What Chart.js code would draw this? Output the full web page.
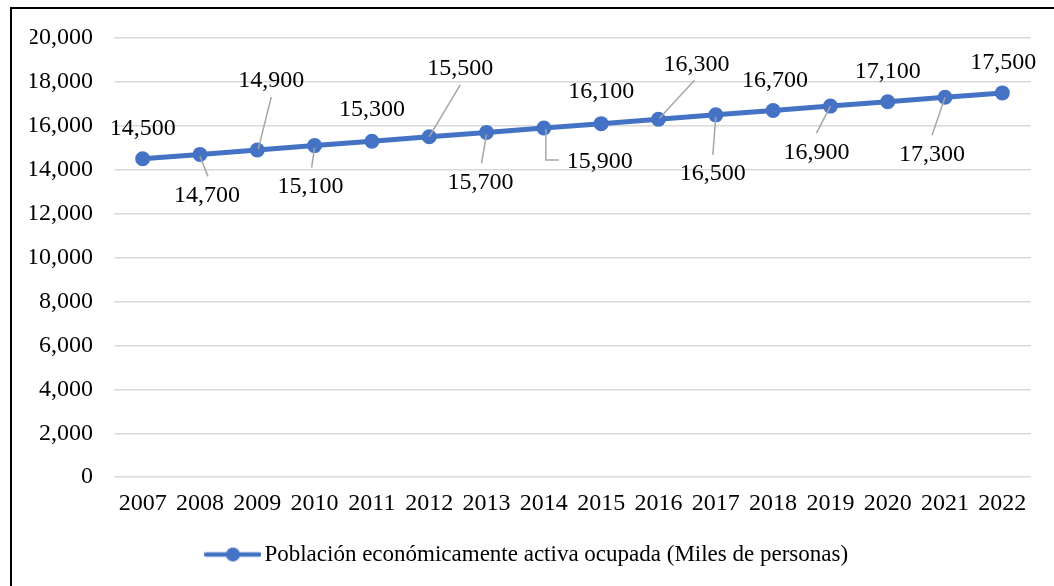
<!DOCTYPE html>
<html><head><meta charset="utf-8">
<script src="https://cdn.jsdelivr.net/npm/chart.js@4/dist/chart.umd.min.js"></script>
<style>
html,body{margin:0;padding:0;background:#fff;overflow:hidden;}
#wrap{position:relative;width:1054px;height:586px;}
#frame{position:absolute;left:10px;top:7px;width:1100px;height:700px;border:2px solid #000;box-sizing:border-box;}
canvas{position:absolute;left:0;top:0;}
</style></head><body>
<div id="wrap"><div id="frame"></div><canvas id="c" width="1054" height="586"></canvas></div>
<script>
// ---- data ----
const categories = ['2007','2008','2009','2010','2011','2012','2013','2014','2015','2016','2017','2018','2019','2020','2021','2022'];
const values = [14500,14700,14900,15100,15300,15500,15700,15900,16100,16300,16500,16700,16900,17100,17300,17500];
const seriesLabel = 'Población económicamente activa ocupada (Miles de personas)';
const yMin = 0, yMax = 20000, yStep = 2000;

// ---- label placement (style) ----
const labelOffsets = [[0,-30],[7,41],[14,-69],[-4,41],[0,-32],[31,-68],[-6,50],[56,34],[0,-32],[38,-55],[-3,59],[2,-30],[-14,47],[0,-30],[-13,57],[1,-30]];
const leaderLines = [null,[[0,2],[8,22]],[[1,-1],[14,-53]],[[0,2],[-3,22]],null,[[0,0],[31,-52]],[[0,2],[-5,31]],[[2,1],[2,32],[15,32]],null,[[1,-1],[36,-39]],[[0,2],[-3,40]],null,[[0,0],[-14,27]],null,[[0,0],[-13,38]],null];

const FONT = "'Times New Roman', 'Liberation Serif', serif";
const FS = 24;
const LFS = 23;
const BLUE = '#4472C4';
const fmt = v => Number(v).toLocaleString('en-US');

// legend marker image: line with circle
const mk = document.createElement('canvas');
mk.width = 57; mk.height = 18;
(function(){
  const g = mk.getContext('2d');
  g.strokeStyle = BLUE; g.lineWidth = 4.5; g.lineCap = 'round';
  g.beginPath(); g.moveTo(2,9); g.lineTo(55,9); g.stroke();
  g.fillStyle = BLUE; g.beginPath(); g.arc(28.5,9,7,0,Math.PI*2); g.fill();
})();

const labelPlugin = {
  id: 'dlabels',
  afterDatasetsDraw(chart) {
    const ctx = chart.ctx;
    const meta = chart.getDatasetMeta(0);
    ctx.save();
    meta.data.forEach((pt, i) => {
      const x = pt.x, y = pt.y;
      const ll = leaderLines[i];
      if (ll) {
        ctx.strokeStyle = '#a6a6a6'; ctx.lineWidth = 1.5;
        ctx.beginPath();
        ll.forEach((p, j) => { j ? ctx.lineTo(x+p[0], y+p[1]) : ctx.moveTo(x+p[0], y+p[1]); });
        ctx.stroke();
      }
      const o = labelOffsets[i];
      ctx.fillStyle = '#000';
      ctx.font = FS + 'px ' + FONT;
      ctx.textAlign = 'center'; ctx.textBaseline = 'middle';
      ctx.fillText(fmt(chart.data.datasets[0].data[i]), x + o[0], y + o[1]);
    });
    ctx.restore();
  }
};

new Chart(document.getElementById('c'), {
  type: 'line',
  data: {
    labels: categories,
    datasets: [{
      label: seriesLabel,
      data: values,
      borderColor: BLUE,
      backgroundColor: BLUE,
      borderWidth: 5,
      pointRadius: 7.5,
      pointHoverRadius: 7.5,
      pointBackgroundColor: BLUE,
      pointBorderWidth: 0,
      pointStyle: 'circle',
      tension: 0
    }]
  },
  options: {
    responsive: false,
    animation: false,
    events: [],
    layout: { padding: { top: 38, right: 23, bottom: 10, left: 30 } },
    plugins: {
      tooltip: { enabled: false },
      legend: {
        position: 'bottom',
        labels: {
          usePointStyle: true,
          pointStyle: mk,
          pointStyleWidth: 40,
          color: '#000',
          font: { family: FONT, size: LFS },
          padding: 13,
          generateLabels(chart) {
            return [{ text: seriesLabel, pointStyle: mk, fillStyle: BLUE, strokeStyle: BLUE, lineWidth: 0, fontColor: '#000', hidden: false, datasetIndex: 0 }];
          }
        }
      }
    },
    scales: {
      x: {
        offset: true,
        grid: { display: false, drawTicks: false },
        border: { display: false },
        ticks: { color: '#000', font: { family: FONT, size: FS }, padding: 12, maxRotation: 0, autoSkip: false }
      },
      y: {
        min: yMin, max: yMax,
        grid: { color: '#d9d9d9', lineWidth: 1.5, drawTicks: false },
        border: { display: false },
        ticks: { stepSize: yStep, color: '#000', font: { family: FONT, size: FS }, padding: 21, callback: v => fmt(v) },
        afterFit(scale) { scale.width = 84; }
      }
    }
  },
  plugins: [labelPlugin]
});
</script>
</body></html>
